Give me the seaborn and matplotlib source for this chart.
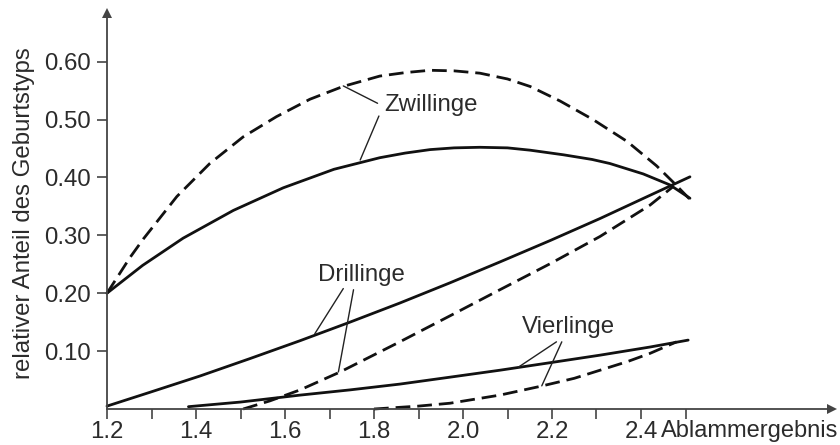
import numpy as np
import pandas as pd
import matplotlib
matplotlib.use("Agg")
import matplotlib.pyplot as plt
import seaborn as sns

# ---- data ----
zw_dash_x = [1.20, 1.252, 1.282, 1.357, 1.431, 1.506, 1.581, 1.656, 1.730, 1.813, 1.870, 1.926, 1.980, 2.038, 2.100, 2.151, 2.218, 2.292, 2.369, 2.435, 2.472, 2.510]
zw_dash_y = [0.200, 0.262, 0.294, 0.367, 0.424, 0.470, 0.505, 0.535, 0.557, 0.575, 0.581, 0.585, 0.584, 0.580, 0.570, 0.557, 0.532, 0.500, 0.462, 0.420, 0.392, 0.362]

zw_sol_x = [1.20, 1.280, 1.371, 1.484, 1.596, 1.710, 1.813, 1.870, 1.926, 1.980, 2.038, 2.100, 2.151, 2.226, 2.290, 2.330, 2.405, 2.465, 2.510]
zw_sol_y = [0.200, 0.248, 0.295, 0.343, 0.382, 0.414, 0.434, 0.442, 0.448, 0.451, 0.452, 0.451, 0.447, 0.439, 0.431, 0.424, 0.406, 0.387, 0.364]

dr_sol_x = [1.200, 1.297, 1.409, 1.521, 1.634, 1.746, 1.858, 1.971, 2.083, 2.196, 2.308, 2.420, 2.510]
dr_sol_y = [0.005, 0.029, 0.057, 0.087, 0.118, 0.150, 0.183, 0.218, 0.254, 0.291, 0.329, 0.369, 0.401]

dr_dash_x = [1.506, 1.566, 1.634, 1.724, 1.858, 1.971, 2.083, 2.196, 2.308, 2.420, 2.472]
dr_dash_y = [0.000, 0.014, 0.033, 0.064, 0.116, 0.161, 0.206, 0.251, 0.298, 0.352, 0.384]

vi_sol_x = [1.383, 1.500, 1.634, 1.746, 1.858, 1.971, 2.083, 2.196, 2.308, 2.420, 2.506]
vi_sol_y = [0.004, 0.012, 0.024, 0.033, 0.043, 0.055, 0.067, 0.080, 0.093, 0.107, 0.119]

vi_dash_x = [1.800, 1.900, 1.971, 2.083, 2.173, 2.250, 2.308, 2.370, 2.420, 2.480]
vi_dash_y = [0.000, 0.005, 0.010, 0.024, 0.039, 0.053, 0.067, 0.082, 0.096, 0.116]

x_major = [1.2, 1.4, 1.6, 1.8, 2.0, 2.2, 2.4]
x_minor = [1.3, 1.5, 1.7, 1.9, 2.1, 2.3, 2.5]
y_ticks = [0.10, 0.20, 0.30, 0.40, 0.50, 0.60]
y_labels = ["0.10", "0.20", "0.30", "0.40", "0.50", "0.60"]

labels = ["Zwillinge", "Drillinge", "Vierlinge"]
x_title = "Ablammergebnis"
y_title = "relativer Anteil des Geburtstyps"

# ---- style ----
sns.set_theme(style="ticks")
plt.rcParams["font.family"] = ["Liberation Sans", "DejaVu Sans"]
TXT = "#2b2b2b"
LINE = "#111111"
AX = "#444444"
FS = 17.3

fig = plt.figure(figsize=(8.4, 4.45), dpi=100)
ax = fig.add_axes([107/840, 36/445, (832-107)/840, (409-13)/445])
ax.set_xlim(1.2, 1.2 + (832-107)/445)
ax.set_ylim(0, (409-13)/579)

series = [
    (zw_sol_x, zw_sol_y, "-"),
    (zw_dash_x, zw_dash_y, "--"),
    (dr_sol_x, dr_sol_y, "-"),
    (dr_dash_x, dr_dash_y, "--"),
    (vi_sol_x, vi_sol_y, "-"),
    (vi_dash_x, vi_dash_y, "--"),
]
for xs, ys, ls in series:
    df = pd.DataFrame({"x": xs, "y": ys})
    sns.lineplot(data=df, x="x", y="y", ax=ax, color=LINE, lw=2.0,
                 estimator=None, sort=False, clip_on=False)
    ln = ax.lines[-1]
    ln.set_solid_joinstyle("round")
    if ls == "--":
        ln.set_dashes((5.3, 2.5))

# axes
sns.despine(ax=ax)
for s in ["left", "bottom"]:
    ax.spines[s].set_color(AX)
    ax.spines[s].set_linewidth(1.3)
ax.plot(1, 0, ">", transform=ax.transAxes, clip_on=False, color=AX, ms=7, mew=0)
ax.plot(0, 1, "^", transform=ax.transAxes, clip_on=False, color=AX, ms=7, mew=0)

ax.set_xticks(x_major)
ax.set_xticks(x_minor, minor=True)
ax.set_xticklabels([f"{v:.1f}" for v in x_major])
ax.set_yticks(y_ticks)
ax.set_yticklabels(y_labels)
ax.tick_params(axis="x", which="both", direction="out", length=7, width=1.2,
               color=AX, labelsize=FS, labelcolor=TXT, pad=1.5)
ax.tick_params(axis="y", which="both", direction="out", length=7, width=1.2,
               color=AX, labelsize=FS, labelcolor=TXT, pad=4.5)
ax.set_xlabel("")
ax.set_ylabel("")

fig.text(24/840, 1 - 213/445, y_title, rotation=90, ha="center", va="center",
         fontsize=FS, color=TXT)
fig.text(838/840, 1 - 431/445, x_title, ha="right", va="center",
         fontsize=17.0, color=TXT)

# labels with leader lines
ax.text(1.928, 0.525, labels[0], ha="center", va="center", fontsize=FS, color=TXT)
ax.text(1.771, 0.231, labels[1], ha="center", va="center", fontsize=FS, color=TXT)
ax.text(2.238, 0.142, labels[2], ha="center", va="center", fontsize=FS, color=TXT)

leaders = [
    ((1.808, 0.528), (1.731, 0.558)),
    ((1.811, 0.506), (1.769, 0.430)),
    ((1.731, 0.208), (1.667, 0.130)),
    ((1.754, 0.206), (1.720, 0.064)),
    ((2.210, 0.116), (2.124, 0.072)),
    ((2.222, 0.116), (2.177, 0.040)),
]
for (x0, y0), (x1, y1) in leaders:
    ax.annotate("", xy=(x1, y1), xytext=(x0, y0),
                arrowprops=dict(arrowstyle="-", color="#222222", lw=1.0,
                                shrinkA=0, shrinkB=0))

fig.savefig("out.png", dpi=100)
